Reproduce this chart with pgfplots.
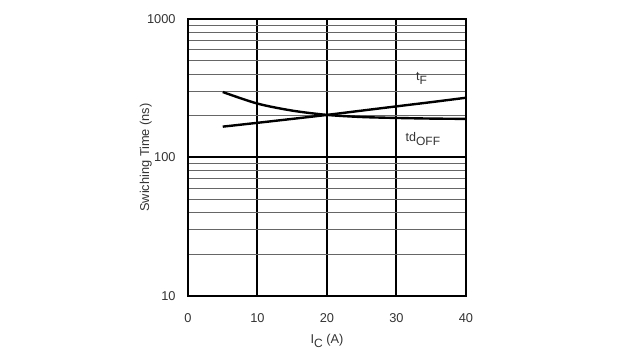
\documentclass[border=0pt]{standalone}
\usepackage{pgfplots}
\pgfplotsset{compat=1.18}
\usepackage{fontspec}
\setmainfont{Liberation Sans}
\newcommand{\sub}[1]{\raisebox{-3pt}{\fontsize{9pt}{10pt}\selectfont #1}}
\begin{document}
\fontsize{9.4pt}{11pt}\selectfont
\begin{tikzpicture}
\useasboundingbox[fill=white] (0pt,0pt) rectangle (480pt,270pt);
\begin{axis}[
  at={(141pt,48pt)}, anchor=south west,
  scale only axis, width=208.5pt, height=207.75pt,
  ymode=log, xmin=0, xmax=40, ymin=10, ymax=1000,
  xtick={0,10,20,30,40},
  ytick={10,100,1000}, yticklabels={10,100,1000},
  minor ytick={20,30,40,50,60,70,80,90,200,300,400,500,600,700,800,900},
  xmajorgrids, ymajorgrids, yminorgrids,
  major grid style={black, line width=1.5pt},
  minor grid style={black!60, line width=0.7pt},
  axis line style={black, line width=2.2pt},
  major tick length=0pt, minor tick length=0pt,
  tick label style={text=black!80, font=\fontsize{9.6pt}{11pt}\selectfont},
  xticklabel style={yshift=-10pt},
  yticklabel style={xshift=-6pt},
  /pgf/number format/assume math mode=true,
  xlabel={I\sub{C} (A)},
  ylabel={Swiching Time (ns)},
  label style={text=black!80, font=\fontsize{9.6pt}{11pt}\selectfont},
  xlabel style={yshift=-2pt},
  ylabel style={yshift=-10pt},
  clip=false,
]
\addplot[black, line width=1.8pt, smooth] coordinates {
 (5,297) (10,245) (15,218) (20,203) (25,196) (30,193) (35,191) (40,190)};
\addplot[black, line width=1.8pt, smooth] coordinates {
 (5,167) (10,178) (15,190) (20,203) (25,218) (30,234) (35,251) (40,270)};
\node[text=black!80] at (axis cs:33.6,370) {t\sub{F}};
\node[text=black!80] at (axis cs:33.8,135) {td\sub{OFF}};
\end{axis}
\end{tikzpicture}
\end{document}
